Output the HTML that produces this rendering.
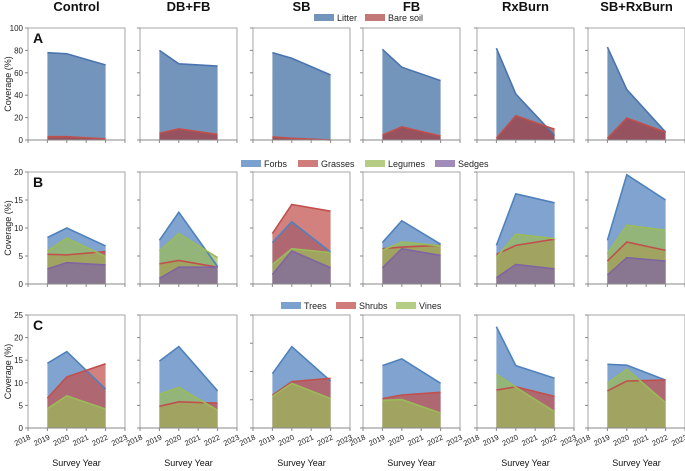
<!DOCTYPE html>
<html><head><meta charset="utf-8">
<style>
html,body{margin:0;padding:0;background:#fff;}
svg{display:block;font-family:"Liberation Sans",sans-serif;}
</style></head>
<body>
<svg id="chart" width="685" height="471" viewBox="0 0 685 471" xmlns="http://www.w3.org/2000/svg"></svg>
<script>
const treatments = ["Control","DB+FB","SB","FB","RxBurn","SB+RxBurn"];
const years = [2019,2020,2022];
const xTickLabels = [2018,2019,2020,2021,2022,2023];
// Row A
const aSeries = ["Litter","Bare soil"];
const litter = [[78,77,67],[80,68,66],[78,73,58],[81,65,53],[82,41,4],[83,45,7]];
const bareSoil = [[3,3,1],[6,10,5],[2.7,1.5,0],[4.5,11.7,3.6],[1.5,21.7,9.6],[1.5,19.6,7]];
// Row B
const bSeries = ["Forbs","Grasses","Legumes","Sedges"];
const forbs = [[8.3,10,6.8],[7.8,12.8,3.1],[7.4,11.1,5.7],[7.4,11.3,7.1],[6.9,16.1,14.5],[7.8,19.5,15]];
const grasses = [[5.3,5.2,5.8],[3.6,4.2,3],[9.0,14.2,13.0],[6.3,6.6,6.9],[5.3,6.9,8],[4.1,7.5,6]];
const legumes = [[5.9,8.2,4.9],[5.9,9,4.7],[3.5,6.3,5.6],[6,7.5,6.8],[4.7,8.9,8.1],[5.4,10.5,9.6]];
const sedges = [[2.7,3.8,3.4],[1,3,3],[1.7,5.9,2.9],[2.9,6.3,5.1],[1.1,3.5,2.7],[1.6,4.7,4.1]];
// Row C
const cSeries = ["Trees","Shrubs","Vines"];
const trees = [[14.3,16.9,8.6],[14.8,18,8.2],[9.6,14.4,8.3],[13.8,15.3,9.9],[22.4,13.8,11],[14.1,13.9,10.6]];
const shrubs = [[6.6,11.3,14.2],[4.8,5.8,5.5],[5.8,8.2,8.8],[6.5,7.3,7.9],[8.4,9.1,7.0],[8.2,10.4,10.6]];
const vines = [[4.3,7.1,4.2],[7.5,9,3.9],[5.6,7.9,5.2],[6.1,6.3,3.3],[11.9,9,3.6],[9.9,13,5.6]];
const cMax = [25,25,20,25,25,25];

const NS="http://www.w3.org/2000/svg";
const svg=document.getElementById('chart');
function el(tag,attrs,parent){const e=document.createElementNS(NS,tag);for(const k in attrs)e.setAttribute(k,attrs[k]);(parent||svg).appendChild(e);return e;}

const panelLeft=[28,140,253,363,477,588];
const panelW=97;
const rows=[{top:28,bot:140},{top:172,bot:284},{top:315,bot:428}];
const colors={blue:"#4f81bd",red:"#c0504d",green:"#9bbb59",purple:"#8064a2"};

function xScale(p,yr){return panelLeft[p]+(yr-2018)/5*panelW;}
function yScale(r,v,max){return rows[r].bot-(v/max)*(rows[r].bot-rows[r].top);}

treatments.forEach((t,p)=>{
  const tx=el('text',{x:panelLeft[p]+panelW/2,y:11,'text-anchor':'middle','font-size':'13','font-weight':'bold',fill:'#111'});
  tx.textContent=t;
  
  
});

function drawArea(p,r,vals,max,fill,stroke,op){
  const pts=years.map((yr,i)=>[xScale(p,yr),yScale(r,vals[i],max)]);
  const b=rows[r].bot;
  let d=`M${pts[0][0]},${b} `+pts.map(q=>`L${q[0]},${q[1]}`).join(' ')+` L${pts[pts.length-1][0]},${b} Z`;
  const a=el('path',{d:d,fill:fill,'fill-opacity':op});
  
  
  return pts;
}
function drawLine(pts,stroke){
  const l=el('polyline',{points:pts.map(q=>q.join(',')).join(' '),fill:'none',stroke:stroke,'stroke-width':'1.6'});
  
  
}

function drawFrame(p,r,max,step,showLabels,showYears){
  const L=panelLeft[p],R=L+panelW,T=rows[r].top,B=rows[r].bot;
  const f=el('path',{d:`M${L},${B} L${L},${T} L${R},${T} L${R},${B}`,fill:'none',stroke:'#a6a6a6','stroke-width':'1'});
  
  
  const ax=el('line',{x1:L,y1:B,x2:R,y2:B,stroke:'#888','stroke-width':'1'});
  
  
  for(let v=0;v<=max;v+=step){
    const y=yScale(r,v,max);
    el('line',{x1:L-3,y1:y,x2:L,y2:y,stroke:'#888'});
    if(showLabels){
      const t=el('text',{x:L-5,y:y+3,'text-anchor':'end','font-size':'8',fill:'#222'});
      t.textContent=v;
      
      
    }
  }
  xTickLabels.forEach(yr=>{
    const x=xScale(p,yr);
    el('line',{x1:x,y1:B,x2:x,y2:B+3,stroke:'#888'});
    if(showYears){
      const t=el('text',{x:x+3,y:B+11,'text-anchor':'end','font-size':'7.5',fill:'#222',transform:`rotate(-25 ${x+3} ${B+11})`});
      t.textContent=yr;
      
      
    }
  });
}

for(let p=0;p<6;p++){
  const pl=drawArea(p,0,litter[p],100,'#7395bb','#4a74b0',1);
  const pb=drawArea(p,0,bareSoil[p],100,'#a4393c','#c0504d',0.72);
  drawLine(pl,'#4a74b0');drawLine(pb,'#c0504d');
  drawFrame(p,0,100,20,p===0,false);
  const bv=[forbs[p],grasses[p],legumes[p],sedges[p]];
  const bc=[colors.blue,colors.red,colors.green,colors.purple];
  const bpts=bv.map((v,i)=>drawArea(p,1,v,20,bc[i],bc[i],0.72));
  bpts.forEach((q,i)=>drawLine(q,bc[i]));
  drawFrame(p,1,20,5,p===0,false);
  const cv=[trees[p],shrubs[p],vines[p]];
  const cc=[colors.blue,colors.red,colors.green];
  const cpts=cv.map((v,i)=>drawArea(p,2,v,cMax[p],cc[i],cc[i],0.72));
  cpts.forEach((q,i)=>drawLine(q,cc[i]));
  drawFrame(p,2,cMax[p],5,p===0,true);
  const sy=el('text',{x:panelLeft[p]+panelW/2,y:466,'text-anchor':'middle','font-size':'9',fill:'#111'});
  sy.textContent='Survey Year';
  
  
}

['A','B','C'].forEach((s,r)=>{
  const t=el('text',{x:33,y:rows[r].top+15,'font-size':'14','font-weight':'bold',fill:'#111'});
  t.textContent=s;
  
  
  const cy=(rows[r].top+rows[r].bot)/2;
  const yt=el('text',{x:8,y:cy,'text-anchor':'middle','font-size':'9',fill:'#222',transform:`rotate(-90 8 ${cy})`,dy:'3'});
  yt.textContent='Coverage (%)';
  
  
});

function legend(items,y){
  items.forEach(it=>{
    const r=el('rect',{x:it.x,y:y-4,width:20,height:7,fill:it.c,'fill-opacity':it.o||0.75});
    
    
    const t=el('text',{x:it.x+23,y:y+3,'font-size':'9',fill:'#222'});
    t.textContent=it.n;
    
    
  });
}
legend([{x:314,c:'#7395bb',o:1,n:aSeries[0]},{x:365,c:'#b04a4a',n:aSeries[1]}],18);
legend([{x:241,c:colors.blue,n:bSeries[0]},{x:298,c:colors.red,n:bSeries[1]},{x:365,c:colors.green,n:bSeries[2]},{x:435,c:colors.purple,n:bSeries[3]}],164);
legend([{x:281,c:colors.blue,n:cSeries[0]},{x:336,c:colors.red,n:cSeries[1]},{x:396,c:colors.green,n:cSeries[2]}],306);
</script>
</body></html>
